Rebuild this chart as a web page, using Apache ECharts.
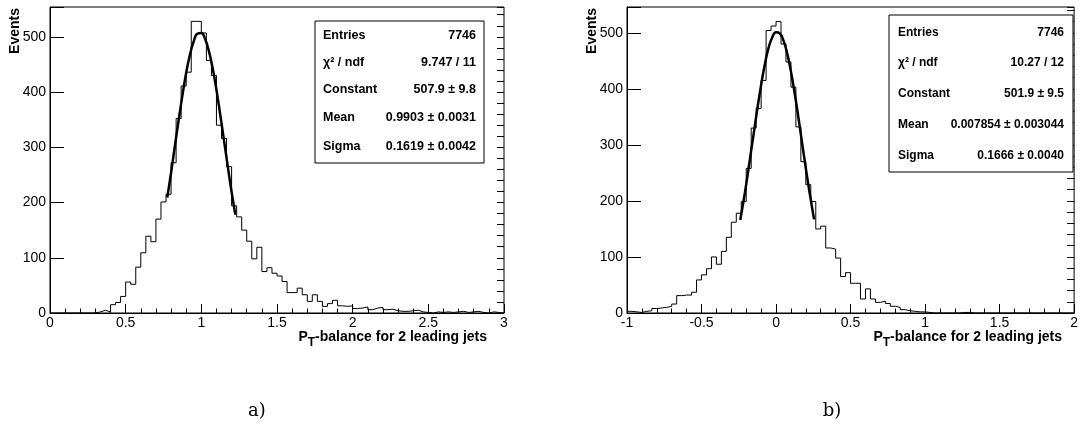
<!DOCTYPE html>
<html><head><meta charset="utf-8">
<script src="https://cdn.jsdelivr.net/npm/echarts@6/dist/echarts.min.js"></script>
<style>html,body{margin:0;padding:0;background:#fff}#c{width:1081px;height:425px}</style>
</head><body><div id="c"></div>
<script>
// ---------- data ----------
const binWidth = 1 / 30;
const leftRange = [0, 3];
const rightRange = [-1, 2];
const leftYMax = 554;
const rightYMax = 546;

const leftCounts = [
  0,0,0,0,0,0,0,0,0,
  2,5,2,15,19,30,56,52,83,109,139,
  129,170,201,215,272,352,411,436,528,528,
  507,457,430,340,316,265,194,174,150,130,
  98,119,75,82,72,67,57,37,37,45,
  33,21,33,21,12,17,23,13,12,13,
  8,9,11,6,9,10,6,7,4,3,
  3,4,5,2,1,0,2,1,2,1,
  2,3,1,2,3,1,0,2,1,0
];
const rightCounts = [
  3,2,1,3,4,8,9,10,12,16,
  31,32,32,37,59,68,79,100,87,110,
  135,162,178,199,258,330,365,415,504,512,
  520,480,448,403,332,270,229,199,150,155,
  116,114,98,65,72,53,53,25,43,25,
  19,21,17,12,10,6,4,3,2,2,
  1,0,0,0,0,0,0,1,1,0,
  0,0,0,0,0,0,0,0,0,0,
  0,0,0,0,0,0,0,0,0,0
];

// fitted gaussian curves
const leftFitX = [0.775,0.8,0.825,0.85,0.875,0.9,0.925,0.95,0.975,1.0,1.025,1.05,1.075,1.1,1.125,1.15,1.175,1.2,1.225];
const leftFitY = [209,254,302,349,394,435,468,492,506,507,496,474,443,404,359,312,265,219,178];
const rightFitX = [-0.24,-0.225,-0.2,-0.175,-0.15,-0.125,-0.1,-0.075,-0.05,-0.025,0,0.025,0.05,0.075,0.1,0.125,0.15,0.175,0.2,0.225,0.255];
const rightFitY = [166,189,230,275,320,365,407,444,473,492,501,499,486,463,431,392,349,303,258,215,167];

const leftXLabels = ['0','0.5','1','1.5','2','2.5','3'];
const rightXLabels = ['-1','-0.5','0','0.5','1','1.5','2'];
const yLabels = ['0','100','200','300','400','500'];

const statLabels = ['Entries', 'χ² / ndf', 'Constant', 'Mean', 'Sigma'];
const leftStatValues = ['7746', '9.747 / 11', '507.9 ± 9.8', '0.9903 ± 0.0031', '0.1619 ± 0.0042'];
const rightStatValues = ['7746', '10.27 / 12', '501.9 ± 9.5', '0.007854 ± 0.003044', '0.1666 ± 0.0040'];

const xTitleMain = 'P';
const xTitleSub = 'T';
const xTitleRest = '-balance for 2 leading jets';
const yTitle = 'Events';
const panelLabels = ['a)', 'b)'];

// ---------- build ----------
const FONT = '"Liberation Sans", Arial, Helvetica, sans-serif';
const measureCtx = document.createElement('canvas').getContext('2d');
function textWidth(t, font) { measureCtx.font = font; return measureCtx.measureText(t).width; }

function histData(counts, xmin) {
  const d = counts.map((v, k) => [xmin + k * binWidth, v]);
  d.push([xmin + counts.length * binWidth, counts[counts.length - 1]]);
  return d;
}
function zip(xs, ys) { return xs.map((x, i) => [x, ys[i]]); }

function xAx(gi, range, labels) {
  return {
    type: 'value', gridIndex: gi, min: range[0], max: range[1], interval: 0.5,
    axisLine: { show: true, onZero: false, lineStyle: { color: '#000', width: 1 } },
    axisTick: { show: true, inside: true, length: 9, lineStyle: { color: '#000' } },
    minorTick: { show: true, splitNumber: 5, length: 4.5, lineStyle: { color: '#000' } },
    splitLine: { show: false }, minorSplitLine: { show: false },
    axisLabel: { color: '#000', fontFamily: FONT, fontSize: 14, margin: 3,
      formatter: (v, i) => (labels[i] !== undefined ? labels[i] : '') }
  };
}
function yMajor(gi, max) {
  return {
    type: 'value', gridIndex: gi, min: 0, max: max, interval: 100,
    axisLine: { show: true, onZero: false, lineStyle: { color: '#000', width: 1 } },
    axisTick: { show: true, inside: true, length: 14, lineStyle: { color: '#000' } },
    splitLine: { show: false },
    axisLabel: { color: '#000', fontFamily: FONT, fontSize: 14, margin: 4,
      formatter: (v, i) => (yLabels[i] !== undefined ? yLabels[i] : '') }
  };
}
function yMinor(gi, max) {
  return {
    type: 'value', gridIndex: gi, min: 0, max: max, interval: 20,
    axisLine: { show: false, onZero: false },
    axisTick: { show: true, inside: true, length: 7, lineStyle: { color: '#000' } },
    splitLine: { show: false }, axisLabel: { show: false }
  };
}

function txt(x, y, t, font, align, vAlign) {
  return { type: 'text', z: 101, style: { x: x, y: y, text: t, font: font, fill: '#000',
    align: align, verticalAlign: vAlign, textAlign: align, textVerticalAlign: vAlign } };
}
function statBox(x, y, w, h, rows, labX, valX, fontSize, values) {
  const f = 'bold ' + fontSize + 'px ' + FONT;
  const els = [{ type: 'rect', z: 100, shape: { x: x, y: y, width: w, height: h },
    style: { fill: '#fff', stroke: '#000', lineWidth: 1 } }];
  rows.forEach((ry, i) => {
    els.push(txt(labX, ry, statLabels[i], f, 'left', 'middle'));
    els.push(txt(valX, ry, values[i], f, 'right', 'middle'));
  });
  return els;
}
function titleEls(xRight, yMid) {
  const fMain = 'bold 14px ' + FONT, fSub = 'bold 12px ' + FONT;
  const wRest = textWidth(xTitleRest, fMain);
  const wSub = textWidth(xTitleSub, fSub);
  return [
    txt(xRight, yMid, xTitleRest, fMain, 'right', 'middle'),
    txt(xRight - wRest, yMid + 4.7, xTitleSub, fSub, 'right', 'middle'),
    txt(xRight - wRest - wSub, yMid, xTitleMain, fMain, 'right', 'middle')
  ];
}
function yTitleText(x, yTop) {
  return { type: 'text', z: 101, x: x, y: yTop, rotation: Math.PI / 2, style: {
    x: 0, y: 0, text: yTitle, font: 'bold 14px ' + FONT, fill: '#000',
    align: 'right', verticalAlign: 'middle', textAlign: 'right', textVerticalAlign: 'middle' } };
}
function panelText(x, y, t) {
  return txt(x, y, t, '18px "DejaVu Serif", "Liberation Serif", serif', 'center', 'middle');
}

const option = {
  animation: false,
  backgroundColor: '#fff',
  grid: [
    { left: 50, top: 7, width: 454, height: 306, show: true, borderColor: '#000', borderWidth: 1, backgroundColor: 'transparent' },
    { left: 627, top: 7, width: 453, height: 306, show: true, borderColor: '#000', borderWidth: 1, backgroundColor: 'transparent' }
  ],
  xAxis: [ xAx(0, leftRange, leftXLabels), xAx(1, rightRange, rightXLabels) ],
  yAxis: [ yMajor(0, leftYMax), yMinor(0, leftYMax), yMajor(1, rightYMax), yMinor(1, rightYMax) ],
  series: [
    { type: 'line', xAxisIndex: 0, yAxisIndex: 0, step: 'end', symbol: 'none',
      lineStyle: { color: '#000', width: 1 }, data: histData(leftCounts, leftRange[0]) },
    { type: 'line', xAxisIndex: 0, yAxisIndex: 0, smooth: true, symbol: 'none',
      lineStyle: { color: '#000', width: 2.5 }, data: zip(leftFitX, leftFitY) },
    { type: 'line', xAxisIndex: 1, yAxisIndex: 2, step: 'end', symbol: 'none',
      lineStyle: { color: '#000', width: 1 }, data: histData(rightCounts, rightRange[0]) },
    { type: 'line', xAxisIndex: 1, yAxisIndex: 2, smooth: true, symbol: 'none',
      lineStyle: { color: '#000', width: 2.5 }, data: zip(rightFitX, rightFitY) }
  ],
  graphic: [].concat(
    statBox(315, 21, 169, 142, [36, 62.5, 90, 118, 146.5], 323, 476, 12.5, leftStatValues),
    statBox(889, 15, 184, 157, [32.5, 63, 94, 125, 156], 898, 1064, 12, rightStatValues),
    titleEls(487, 337.5), titleEls(1062, 337.5),
    [ yTitleText(15, 8), yTitleText(592, 8),
      panelText(257, 411, panelLabels[0]), panelText(832, 411, panelLabels[1]) ]
  )
};
const chart = echarts.init(document.getElementById('c'), null, { renderer: 'canvas' });
chart.setOption(option);
</script>
</body></html>
